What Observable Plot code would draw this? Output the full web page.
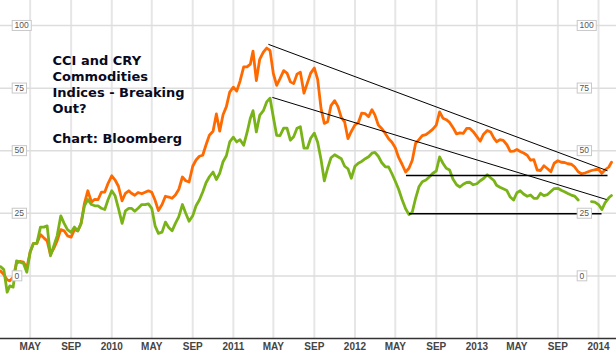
<!DOCTYPE html>
<html><head><meta charset="utf-8">
<script src="https://cdn.jsdelivr.net/npm/d3@7"></script>
<script src="https://cdn.jsdelivr.net/npm/@observablehq/plot@0.6"></script>
<style>html,body{margin:0;padding:0;background:#fff;} svg{display:block}</style>
</head><body><div id="chart"></div>
<script>
const dates = [
"2009-02-01","2009-02-11","2009-02-21","2009-03-01","2009-03-11","2009-03-21","2009-04-01","2009-04-11","2009-04-21",
"2009-05-01","2009-05-11","2009-05-21","2009-06-01","2009-06-11","2009-06-21","2009-07-01","2009-07-11","2009-07-21",
"2009-08-01","2009-08-11","2009-08-21","2009-09-01","2009-09-11","2009-09-21","2009-10-01","2009-10-11","2009-10-21",
"2009-11-01","2009-11-11","2009-11-21","2009-12-01","2009-12-11","2009-12-21",
"2010-01-01","2010-01-11","2010-01-21","2010-02-01","2010-02-11","2010-02-21","2010-03-01","2010-03-11","2010-03-21",
"2010-04-01","2010-04-11","2010-04-21","2010-05-01","2010-05-11","2010-05-21","2010-06-01","2010-06-11","2010-06-21",
"2010-07-01","2010-07-11","2010-07-21","2010-08-01","2010-08-11","2010-08-21","2010-09-01","2010-09-11","2010-09-21",
"2010-10-01","2010-10-11","2010-10-21","2010-11-01","2010-11-11","2010-11-21","2010-12-01","2010-12-11","2010-12-21",
"2011-01-01","2011-01-11","2011-01-21","2011-02-01","2011-02-11","2011-02-21","2011-03-01","2011-03-11","2011-03-21",
"2011-04-01","2011-04-11","2011-04-21","2011-05-01","2011-05-11","2011-05-21","2011-06-01","2011-06-11","2011-06-21",
"2011-07-01","2011-07-11","2011-07-21","2011-08-01","2011-08-11","2011-08-21","2011-09-01","2011-09-11","2011-09-21",
"2011-10-01","2011-10-11","2011-10-21","2011-11-01","2011-11-11","2011-11-21","2011-12-01","2011-12-11","2011-12-21",
"2012-01-01","2012-01-11","2012-01-21","2012-02-01","2012-02-11","2012-02-21","2012-03-01","2012-03-11","2012-03-21",
"2012-04-01","2012-04-11","2012-04-21","2012-05-01","2012-05-11","2012-05-21","2012-06-01","2012-06-11","2012-06-21",
"2012-07-01","2012-07-11","2012-07-21","2012-08-01","2012-08-11","2012-08-21","2012-09-01","2012-09-11","2012-09-21",
"2012-10-01","2012-10-11","2012-10-21","2012-11-01","2012-11-11","2012-11-21","2012-12-01","2012-12-11","2012-12-21",
"2013-01-01","2013-01-11","2013-01-21","2013-02-01","2013-02-11","2013-02-21","2013-03-01","2013-03-11","2013-03-21",
"2013-04-01","2013-04-11","2013-04-21","2013-05-01","2013-05-11","2013-05-21","2013-06-01","2013-06-11","2013-06-21",
"2013-07-01","2013-07-11","2013-07-21","2013-08-01","2013-08-11","2013-08-21","2013-09-01","2013-09-11","2013-09-21",
"2013-10-01","2013-10-11","2013-10-21","2013-11-01","2013-11-11","2013-11-21","2013-12-01","2013-12-11","2013-12-21",
"2014-01-01","2014-01-11","2014-01-21","2014-02-01","2014-02-09"
];
// CCI (orange)
const cci = [
2,0.5,-1.5, -2,-0.5,5, 5.8,5.5,3.2,
9.5,13,13, 16.5,15.2,14, 8.5,11,14,
18.5,18,16, 15.5,18.5,18, 21,29,34,
29.5,30.6,30.5, 33.5,33.5,37,
40,38.3,35.8, 30,33,34, 33,32.2,33.3,
32.8,33.4,34, 33.4,30.2,26.1, 28.5,31.8,31.5,
31,32.3,34.5, 39.5,38,37.5, 43.8,46.3,47.8,
48.2,52.4,56.2, 57.8,64.7,57.8, 64.4,67.6,73.4,
75.4,73.8,77.8, 83.5,83.5,84.6, 89.8,78,86.5,
89.4,91,90.1, 80.8,76.1,78.8, 82,81,77.5,
76.8,80.6,81.4, 73,77,81, 83,78.5,67,
60.9,61.6,68, 70,67.6,63.2, 61.5,54.8,57.7,
60.3,61.2,65, 64.8,63.6,66.4, 64.2,60.3,58.9,
56.9,54.8,53.4, 51.2,47.3,44.7, 41.5,43,46.2,
53,54.4,56, 56.4,57.4,58.5, 60.2,65.5,63,
62.4,61.3,59.3, 56.7,57.1,56.9, 58.9,58.9,57.6,
55.6,53.8,56.6, 58.1,57.5,55, 53.6,54.4,54.1,
52.4,49.7,49.8, 50.5,49.7,49.1, 48.2,46.2,46.4,
42.3,42.1,44, 42.8,41.6,45, 46,45.4,45.3,
44.8,44.6,43.6, 41.6,40.8,41.1, 41.6,42.1,42.4,
42.6,41,42.4, 43.5,45.4
];
// CRY (green)
const cry = [
3.7,2.5,-6.5, -4,-4.5,6, 5.5,5,1.5,
9.5,13,13, 19.5,19.5,20, 8,12,16,
24,21,18.5, 17.4,19.5,18, 21,28,30.5,
28.5,28,28, 27,26.5,30.5,
34,32,27, 21,26,27, 27,25.8,27,
28.5,28.5,28.8, 27,20,17, 17.5,21.5,19.3,
18,21,23.6, 28.5,25,21.8, 24,28,30.3,
33.5,37.2,39.6, 41.5,38.5,41, 45.6,48,53.5,
55.4,53.5,54.4, 52.2,57.2,63, 66,57.5,64.1,
66,69.5,71, 63.4,56.1,56, 59,59,54.2,
55.6,59,59.6, 51,51,55, 57,53.4,46.6,
38,43,47.2, 48.4,47.6,46.8, 43.8,42.8,39,
43.8,45,45.7, 46.8,47.6,49, 49.3,47.8,45.3,
43.6,43.5,40.8, 37.8,34.6,30.6, 26.8,24.5,25.5,
31,35.6,37.6, 38.3,39.5,40.9, 41.9,47.5,45,
43,42.3,38.7, 36.4,35.5,36.6, 37.3,37.4,36.4,
36.8,38,38.9, 40.4,39.2,38.1, 36.2,35.4,34.8,
34.1,31.5,30.3, 33.2,34,32.7, 31.8,32.3,31,
31,33,32.1, 32.5,33.7,34.9, 35,34.2,33.6,
32.9,32.3,31.9, 30.3,null,null, null,29.7,29.5,
28.5,26.5,29.3, 31.2,32.1
];
const yTicks = [0, 25, 50, 75, 100];
const xTickDates = ["2009-05-01","2009-09-01","2010-01-01","2010-05-01","2010-09-01","2011-01-01","2011-05-01","2011-09-01",
  "2012-01-01","2012-05-01","2012-09-01","2013-01-01","2013-05-01","2013-09-01","2014-01-01"];
const xTickLabels = ["MAY","SEP","2010","MAY","SEP","2011","MAY","SEP","2012","MAY","SEP","2013","MAY","SEP","2014"];
// trendlines (annotation)
const trendStartDate = ["2011-04-16","2011-04-28","2012-06-02","2012-06-11"];
const trendStartValue = [92.5, 71.3, 40.1, 24.8];
const trendEndDate = ["2014-01-28","2014-01-25","2014-01-28","2014-01-10"];
const trendEndValue = [42, 30.5, 40.1, 24.8];
const trendWidth = [1, 1, 1.5, 1.5];
const titleLines = "CCI and CRY\nCommodities\nIndices - Breaking\nOut?";
const sourceLine = "Chart: Bloomberg";

const rows = dates.map((d, i) => ({date: new Date(d), cci: cci[i], cry: cry[i]}));
const xTicks = xTickDates.map((d, i) => ({date: new Date(d), label: xTickLabels[i]}));
const trends = trendStartDate.map((d, i) => ({
  x1: new Date(d), y1: trendStartValue[i], x2: new Date(trendEndDate[i]), y2: trendEndValue[i], w: trendWidth[i]
}));

const LABEL_FILL = "#565656";
const chart = Plot.plot({
  width: 616, height: 353,
  marginTop: 0, marginRight: 0, marginBottom: 15, marginLeft: 0,
  style: {background: "#fff", fontFamily: "'Liberation Sans', Arial, sans-serif"},
  x: {type: "utc", domain: [new Date("2009-02-01"), new Date("2014-02-24")], axis: null},
  y: {domain: [-25, 110], axis: null},
  marks: [
    Plot.ruleX(xTicks, {x: "date", stroke: "#e6e6e6", strokeWidth: 2}),
    Plot.ruleY(yTicks, {stroke: "#dddddd", strokeWidth: 1.5}),
    Plot.ruleY([-25], {stroke: "#333", strokeWidth: 1.5}),
    Plot.line(rows, {x: "date", y: "cci", stroke: "#ff6a00", strokeWidth: 2.8, strokeLinejoin: "round"}),
    Plot.line(rows, {x: "date", y: "cry", stroke: "#7ab317", strokeWidth: 2.8, strokeLinejoin: "round"}),
    Plot.link(trends, {x1: "x1", y1: "y1", x2: "x2", y2: "y2", stroke: "#000", strokeWidth: "w"}),
    Plot.text(yTicks, {y: d => d, text: d => String(d), frameAnchor: "left", textAnchor: "start", dx: 14,
      fontSize: 8.5, fill: LABEL_FILL}),
    Plot.text(yTicks, {y: d => d, text: d => String(d), frameAnchor: "right", textAnchor: "start", dx: -37,
      fontSize: 8.5, fill: LABEL_FILL}),
    Plot.text(xTicks, {x: "date", text: "label", frameAnchor: "bottom", lineAnchor: "top", dy: 4.5,
      fontSize: 10, fontWeight: "bold", fill: "#444",
      fontFamily: "'Liberation Sans Narrow', 'Liberation Sans', Arial, sans-serif"}),
    Plot.text([titleLines], {frameAnchor: "top-left", dx: 52, dy: 53, fontSize: 13, fontWeight: "bold",
      lineHeight: 16 / 13, fill: "#0a0a1e", fontFamily: "'DejaVu Sans', Verdana, sans-serif"}),
    Plot.text([sourceLine], {frameAnchor: "top-left", dx: 52, dy: 133, fontSize: 13, fontWeight: "bold",
      fill: "#0a0a1e", fontFamily: "'DejaVu Sans', Verdana, sans-serif"})
  ]
});
document.getElementById("chart").append(chart);

// boxed y labels
const labelTexts = Array.from(chart.querySelectorAll("text")).filter(t => {
  const g = t.closest("g");
  return g && (g.getAttribute("fill") === LABEL_FILL || t.getAttribute("fill") === LABEL_FILL);
});
labelTexts.forEach(t => {
  const b = t.getBBox();
  const r = document.createElementNS("http://www.w3.org/2000/svg", "rect");
  r.setAttribute("x", b.x - 2.3);
  r.setAttribute("y", b.y + 0.2);
  r.setAttribute("width", b.width + 4.6);
  r.setAttribute("height", b.height);
  r.setAttribute("fill", "#fff");
  r.setAttribute("stroke", "#c8c8c8");
  r.setAttribute("stroke-width", 1);
  const tr = t.getAttribute("transform");
  if (tr) r.setAttribute("transform", tr);
  t.parentNode.insertBefore(r, t);
});
</script>
</body></html>
